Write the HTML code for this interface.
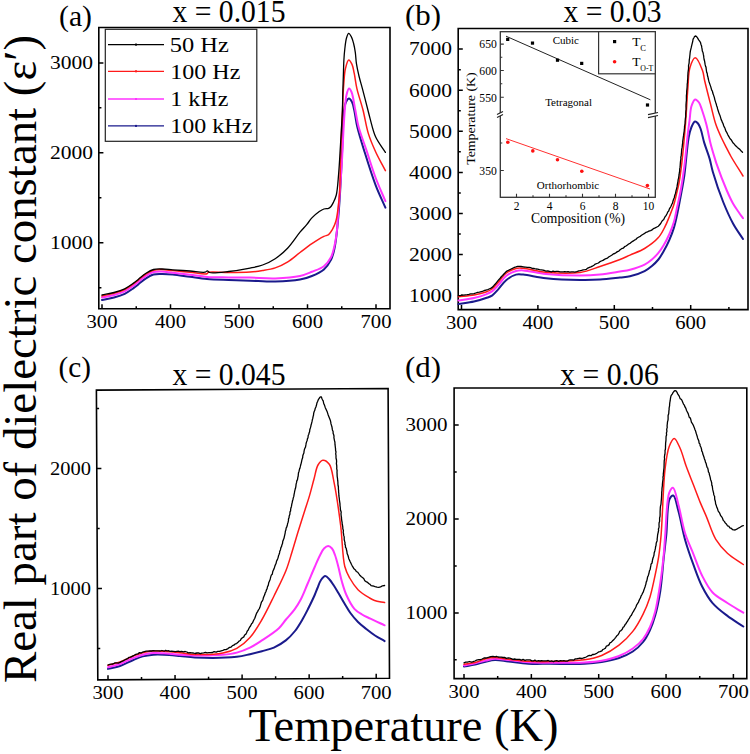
<!DOCTYPE html>
<html><head><meta charset="utf-8"><style>
html,body{margin:0;padding:0;background:#fff;}
svg{display:block;}
text{font-family:"Liberation Serif", serif;fill:#000;}
</style></head><body>
<svg width="750" height="754" viewBox="0 0 750 754">
<rect width="750" height="754" fill="#fff"/>
<path d="M98.8,27.5 L390,27.5 L390,308.8 L98.8,308.8 Z" fill="none" stroke="#000" stroke-width="1.6" stroke-linejoin="miter"/>
<path d="M102.00,308.80v-4.6 M170.50,308.80v-4.6 M239.00,308.80v-4.6 M307.50,308.80v-4.6 M376.00,308.80v-4.6 M136.25,308.80v-2.6 M204.75,308.80v-2.6 M273.25,308.80v-2.6 M341.75,308.80v-2.6 M98.80,242.70h4.6 M98.80,152.80h4.6 M98.80,62.90h4.6 M98.80,287.65h2.6 M98.80,197.75h2.6 M98.80,107.85h2.6" stroke="#000" stroke-width="1.5" fill="none"/>
<text x="102.0" y="328" font-size="19" text-anchor="middle" textLength="31" lengthAdjust="spacingAndGlyphs">300</text>
<text x="170.5" y="328" font-size="19" text-anchor="middle" textLength="31" lengthAdjust="spacingAndGlyphs">400</text>
<text x="239.0" y="328" font-size="19" text-anchor="middle" textLength="31" lengthAdjust="spacingAndGlyphs">500</text>
<text x="307.5" y="328" font-size="19" text-anchor="middle" textLength="31" lengthAdjust="spacingAndGlyphs">600</text>
<text x="376.0" y="328" font-size="19" text-anchor="middle" textLength="31" lengthAdjust="spacingAndGlyphs">700</text>
<text x="93" y="249.0" font-size="19" text-anchor="end" textLength="43" lengthAdjust="spacingAndGlyphs">1000</text>
<text x="93" y="159.1" font-size="19" text-anchor="end" textLength="43" lengthAdjust="spacingAndGlyphs">2000</text>
<text x="93" y="69.2" font-size="19" text-anchor="end" textLength="43" lengthAdjust="spacingAndGlyphs">3000</text>
<path d="M102.00,300.00 C106.00,299.17 110.15,298.56 114.00,297.50 C117.70,296.48 121.42,295.38 124.70,293.80 C127.79,292.31 130.74,290.15 133.20,288.40 C135.22,286.97 136.58,285.72 138.50,284.20 C140.78,282.40 143.42,279.95 146.00,278.30 C148.43,276.75 150.84,275.22 153.50,274.50 C156.17,273.78 159.00,274.02 162.00,274.00 C165.36,273.98 168.72,274.14 172.70,274.50 C177.79,274.96 184.26,276.05 190.00,276.80 C195.69,277.55 200.98,278.47 207.00,279.00 C213.78,279.59 221.50,279.72 228.70,280.00 C235.83,280.28 242.60,280.45 250.00,280.70 C258.05,280.98 266.84,281.79 275.20,281.60 C283.51,281.41 293.29,280.87 300.00,279.60 C304.74,278.70 308.01,277.64 311.90,276.00 C315.98,274.28 320.65,272.22 323.90,269.40 C326.92,266.77 329.22,263.42 331.00,259.90 C332.82,256.28 333.64,252.31 334.60,247.90 C335.74,242.68 336.27,236.97 337.00,230.50 C337.91,222.39 338.65,213.81 339.40,203.00 C340.47,187.51 341.61,162.51 342.30,146.40 C342.82,134.41 342.45,123.17 343.40,115.00 C344.02,109.70 344.61,104.85 346.00,102.00 C346.82,100.32 348.00,98.50 349.00,98.50 C350.00,98.50 351.19,100.48 352.00,102.00 C353.08,104.04 353.48,106.84 354.20,110.00 C355.23,114.50 355.77,120.44 357.20,126.50 C358.99,134.12 361.79,142.96 364.60,152.00 C367.84,162.41 371.90,175.46 375.70,185.40 C378.86,193.66 382.17,200.27 385.40,207.70" stroke="#1a1a8c" stroke-width="2.0" fill="none" stroke-linejoin="round" stroke-linecap="round"/>
<path d="M102.00,297.50 C106.00,296.67 110.15,296.06 114.00,295.00 C117.70,293.98 121.42,292.88 124.70,291.30 C127.79,289.81 130.74,287.65 133.20,285.90 C135.22,284.47 136.58,283.22 138.50,281.70 C140.78,279.90 143.42,277.45 146.00,275.80 C148.43,274.25 150.84,272.72 153.50,272.00 C156.17,271.28 159.01,271.41 162.00,271.50 C165.37,271.60 168.71,272.33 172.70,272.80 C177.78,273.40 184.26,274.11 190.00,274.80 C195.69,275.48 200.98,276.46 207.00,276.90 C213.78,277.40 221.50,277.28 228.70,277.40 C235.83,277.52 242.60,277.45 250.00,277.60 C258.05,277.77 266.84,278.67 275.20,278.40 C283.51,278.13 293.31,277.48 300.00,276.00 C304.76,274.95 307.96,273.41 311.90,271.80 C315.93,270.15 320.65,268.76 323.90,266.20 C326.91,263.83 329.23,260.68 331.00,257.30 C332.86,253.75 333.63,249.59 334.60,245.30 C335.69,240.50 336.41,235.16 337.00,229.80 C337.63,224.08 337.77,217.58 338.20,212.00 C338.58,207.05 338.95,203.81 339.40,198.00 C340.14,188.43 341.29,171.92 342.00,160.00 C342.63,149.41 342.98,138.99 343.50,130.00 C343.92,122.66 344.25,116.18 344.80,110.00 C345.28,104.63 345.53,98.90 346.50,95.00 C347.15,92.37 348.04,88.73 349.00,88.60 C349.75,88.50 350.74,90.30 351.50,92.00 C353.09,95.54 354.11,104.13 355.30,110.00 C356.44,115.61 356.94,120.56 358.50,126.50 C360.40,133.72 363.66,141.90 366.40,150.10 C369.38,159.01 372.39,169.19 375.70,178.00 C378.76,186.15 382.17,193.47 385.40,201.20" stroke="#ff33ff" stroke-width="2.0" fill="none" stroke-linejoin="round" stroke-linecap="round"/>
<path d="M102.00,296.00 C106.00,295.07 110.14,294.31 114.00,293.20 C117.70,292.13 121.43,291.10 124.70,289.50 C127.80,287.99 130.74,285.77 133.20,284.00 C135.21,282.56 136.58,281.31 138.50,279.80 C140.78,278.02 143.42,275.63 146.00,274.00 C148.43,272.46 150.84,270.93 153.50,270.20 C156.17,269.46 159.01,269.57 162.00,269.60 C165.36,269.64 168.71,270.23 172.70,270.60 C177.78,271.07 184.26,271.68 190.00,272.20 C195.69,272.71 204.54,274.59 207.00,273.70 C207.84,273.40 207.54,272.65 208.40,272.30 C211.15,271.19 221.85,272.63 228.70,272.60 C235.71,272.57 243.84,272.54 250.00,272.10 C254.76,271.76 258.42,271.30 262.60,270.60 C266.82,269.90 271.08,269.31 275.20,267.90 C279.49,266.43 283.75,264.29 287.80,261.80 C292.04,259.20 295.95,255.56 300.00,252.50 C303.98,249.49 307.85,246.32 311.90,243.60 C315.83,240.96 320.77,237.93 323.90,236.40 C325.78,235.49 327.26,235.61 328.60,234.60 C330.07,233.49 331.10,231.69 332.20,229.80 C333.55,227.48 334.85,224.71 335.80,221.50 C337.00,217.44 337.57,212.05 338.20,207.20 C338.85,202.22 339.23,198.16 339.60,192.00 C340.17,182.50 340.23,167.14 340.60,155.70 C340.93,145.44 341.31,134.85 341.70,126.50 C341.99,120.22 342.40,115.01 342.60,110.00 C342.77,105.82 342.72,102.68 342.90,98.50 C343.12,93.49 343.45,87.19 343.90,82.00 C344.30,77.35 344.46,72.70 345.40,68.80 C346.19,65.52 347.41,60.19 348.70,60.00 C349.69,59.86 351.13,62.58 352.00,64.40 C353.12,66.74 353.49,69.84 354.20,73.20 C355.14,77.61 355.63,83.08 356.90,88.60 C358.41,95.18 361.13,102.68 363.00,110.00 C364.94,117.60 366.05,126.13 368.30,133.40 C370.36,140.04 372.89,145.87 375.70,152.00 C378.58,158.27 382.17,164.40 385.40,170.60" stroke="#ff1a1a" stroke-width="1.5" fill="none" stroke-linejoin="round" stroke-linecap="round"/>
<path d="M102.00,295.00 C106.00,294.17 110.15,293.56 114.00,292.50 C117.70,291.48 121.42,290.38 124.70,288.80 C127.79,287.31 130.74,285.15 133.20,283.40 C135.22,281.97 136.58,280.72 138.50,279.20 C140.78,277.40 143.42,274.95 146.00,273.30 C148.43,271.75 150.84,270.22 153.50,269.50 C156.17,268.78 159.00,268.98 162.00,269.00 C165.36,269.03 168.71,269.51 172.70,269.80 C177.78,270.17 184.44,270.58 190.00,271.00 C195.18,271.39 202.24,272.86 205.00,272.20 C206.17,271.92 206.56,270.76 207.30,270.80 C208.06,270.84 208.30,272.12 209.50,272.50 C212.66,273.49 222.15,272.19 228.70,271.50 C235.63,270.77 243.85,269.35 250.00,268.10 C254.77,267.13 258.48,266.51 262.60,265.00 C266.89,263.42 271.15,261.37 275.20,258.70 C279.58,255.81 283.84,252.15 287.80,248.00 C292.15,243.44 296.48,236.47 300.00,232.20 C302.51,229.16 304.64,227.09 306.70,224.60 C308.58,222.33 309.90,220.01 311.90,217.90 C314.05,215.63 317.05,213.06 319.30,211.50 C320.95,210.36 322.31,209.51 323.90,209.00 C325.41,208.51 327.35,208.93 328.60,208.40 C329.60,207.98 330.27,207.34 331.00,206.50 C331.91,205.45 332.62,204.00 333.40,202.40 C334.41,200.33 335.52,198.15 336.30,195.00 C337.56,189.90 337.95,181.72 338.60,174.30 C339.35,165.70 339.81,156.32 340.40,146.40 C341.08,135.07 342.01,119.85 342.40,110.00 C342.66,103.27 342.63,99.03 342.80,93.00 C342.99,86.14 343.29,77.07 343.50,71.00 C343.65,66.70 343.68,63.66 343.90,60.00 C344.12,56.33 344.37,52.66 344.80,49.00 C345.23,45.33 345.63,40.83 346.50,38.00 C347.09,36.08 347.85,33.49 348.70,33.40 C349.50,33.32 350.64,35.47 351.40,36.90 C352.35,38.69 352.98,41.12 353.60,43.50 C354.31,46.20 354.85,49.19 355.30,52.30 C355.80,55.75 355.82,59.48 356.40,63.30 C357.04,67.52 358.08,72.21 359.10,76.50 C360.09,80.64 361.18,83.99 362.40,88.60 C364.02,94.72 366.48,104.46 367.90,110.00 C368.80,113.51 369.15,115.20 370.10,118.60 C371.50,123.61 373.08,131.39 375.70,137.10 C378.23,142.63 382.17,147.30 385.40,152.40" stroke="#000" stroke-width="1.3" fill="none" stroke-linejoin="round" stroke-linecap="round"/>
<rect x="105.3" y="29.3" width="151.5" height="112" fill="#fff" stroke="#222" stroke-width="1.2"/>
<path d="M108,44.6H164" stroke="#000" stroke-width="1.3"/>
<rect x="135" y="43.6" width="2" height="2" fill="#000"/>
<text x="169.8" y="51.9" font-size="22" textLength="59" lengthAdjust="spacingAndGlyphs">50 Hz</text>
<path d="M108,71.3H164" stroke="#ff1a1a" stroke-width="1.3"/>
<rect x="135" y="70.3" width="2" height="2" fill="#ff1a1a"/>
<text x="170.3" y="78.6" font-size="22" textLength="70" lengthAdjust="spacingAndGlyphs">100 Hz</text>
<path d="M108,99H164" stroke="#ff33ff" stroke-width="1.3"/>
<rect x="135" y="98.0" width="2" height="2" fill="#ff33ff"/>
<text x="170.3" y="106.3" font-size="22" textLength="58" lengthAdjust="spacingAndGlyphs">1 kHz</text>
<path d="M108,125.9H164" stroke="#1a1a8c" stroke-width="1.3"/>
<rect x="135" y="124.9" width="2" height="2" fill="#1a1a8c"/>
<text x="170.3" y="133.2" font-size="22" textLength="82" lengthAdjust="spacingAndGlyphs">100 kHz</text>
<text x="59" y="25.5" font-size="30" textLength="33" lengthAdjust="spacingAndGlyphs">(a)</text>
<text x="172.5" y="21.7" font-size="31" textLength="113" lengthAdjust="spacingAndGlyphs">x = 0.015</text>
<path d="M458.2,28.5 L748,28.5 L748,309.6 L458.2,309.6 Z" fill="none" stroke="#000" stroke-width="1.6" stroke-linejoin="miter"/>
<path d="M461.50,309.60v-4.6 M537.90,309.60v-4.6 M614.30,309.60v-4.6 M690.70,309.60v-4.6 M499.70,309.60v-2.6 M576.10,309.60v-2.6 M652.50,309.60v-2.6 M728.90,309.60v-2.6 M458.20,295.70h4.6 M458.20,254.60h4.6 M458.20,213.50h4.6 M458.20,172.40h4.6 M458.20,131.30h4.6 M458.20,90.20h4.6 M458.20,49.10h4.6 M458.20,275.15h2.6 M458.20,234.05h2.6 M458.20,192.95h2.6 M458.20,151.85h2.6 M458.20,110.75h2.6 M458.20,69.65h2.6" stroke="#000" stroke-width="1.5" fill="none"/>
<text x="461.5" y="329" font-size="19" text-anchor="middle" textLength="31" lengthAdjust="spacingAndGlyphs">300</text>
<text x="537.9" y="329" font-size="19" text-anchor="middle" textLength="31" lengthAdjust="spacingAndGlyphs">400</text>
<text x="614.3" y="329" font-size="19" text-anchor="middle" textLength="31" lengthAdjust="spacingAndGlyphs">500</text>
<text x="690.7" y="329" font-size="19" text-anchor="middle" textLength="31" lengthAdjust="spacingAndGlyphs">600</text>
<text x="452" y="302.0" font-size="19" text-anchor="end" textLength="43" lengthAdjust="spacingAndGlyphs">1000</text>
<text x="452" y="260.9" font-size="19" text-anchor="end" textLength="43" lengthAdjust="spacingAndGlyphs">2000</text>
<text x="452" y="219.8" font-size="19" text-anchor="end" textLength="43" lengthAdjust="spacingAndGlyphs">3000</text>
<text x="452" y="178.7" font-size="19" text-anchor="end" textLength="43" lengthAdjust="spacingAndGlyphs">4000</text>
<text x="452" y="137.6" font-size="19" text-anchor="end" textLength="43" lengthAdjust="spacingAndGlyphs">5000</text>
<text x="452" y="96.5" font-size="19" text-anchor="end" textLength="43" lengthAdjust="spacingAndGlyphs">6000</text>
<text x="452" y="55.4" font-size="19" text-anchor="end" textLength="43" lengthAdjust="spacingAndGlyphs">7000</text>
<path d="M458.40,304.00 C463.60,303.20 469.18,302.69 474.00,301.60 C478.30,300.63 482.71,299.15 486.00,298.00 C488.36,297.17 490.12,296.84 492.00,295.60 C494.16,294.18 495.87,291.87 498.00,289.60 C500.61,286.81 503.27,282.55 506.40,280.00 C509.31,277.63 512.93,275.40 516.00,274.60 C518.48,273.95 520.14,274.36 523.20,274.60 C528.68,275.03 537.62,277.32 546.00,278.20 C556.18,279.27 570.16,279.84 580.00,280.00 C587.54,280.12 593.34,280.02 600.00,279.60 C606.68,279.18 614.48,278.12 620.00,277.50 C623.91,277.06 626.40,277.15 630.00,276.30 C634.46,275.25 640.68,273.12 644.60,271.10 C647.57,269.57 649.62,267.91 651.90,266.00 C654.22,264.05 656.48,261.89 658.40,259.50 C660.35,257.07 661.81,254.47 663.50,251.50 C665.48,248.01 667.67,243.75 669.40,239.80 C671.09,235.94 672.58,232.03 673.80,228.10 C675.00,224.26 675.70,220.99 676.70,216.50 C678.07,210.36 679.69,201.70 681.00,194.60 C682.24,187.89 683.31,182.62 684.40,175.00 C685.91,164.47 687.05,145.77 688.70,137.20 C689.57,132.68 690.26,129.80 691.50,127.00 C692.48,124.80 693.73,121.77 695.00,121.50 C695.94,121.30 697.15,122.53 698.00,123.50 C699.06,124.70 699.69,126.36 700.50,128.50 C701.80,131.96 702.76,137.78 704.20,142.60 C705.76,147.79 708.12,153.50 709.60,158.60 C710.92,163.16 711.27,166.47 712.80,171.70 C715.16,179.76 719.52,192.79 723.20,202.00 C726.40,210.01 729.72,217.48 733.30,224.00 C736.38,229.60 739.77,234.00 743.00,239.00" stroke="#1a1a8c" stroke-width="2.0" fill="none" stroke-linejoin="round" stroke-linecap="round"/>
<path d="M458.40,300.40 C463.60,299.60 469.18,299.09 474.00,298.00 C478.30,297.03 482.73,295.70 486.00,294.40 C488.39,293.45 490.10,292.77 492.00,291.40 C494.13,289.86 495.87,287.67 498.00,285.40 C500.61,282.61 503.24,278.24 506.40,275.80 C509.30,273.56 512.95,271.86 516.00,271.00 C518.50,270.30 520.14,270.29 523.20,270.40 C528.68,270.60 537.62,273.14 546.00,274.00 C556.18,275.04 570.16,275.61 580.00,275.60 C587.55,275.59 593.35,275.28 600.00,274.60 C606.68,273.92 614.48,272.42 620.00,271.50 C623.91,270.85 626.39,270.65 630.00,269.70 C634.45,268.53 640.68,266.61 644.60,264.60 C647.58,263.08 649.62,261.43 651.90,259.50 C654.23,257.54 656.45,255.24 658.40,252.90 C660.31,250.60 661.83,248.38 663.50,245.60 C665.52,242.24 667.67,237.92 669.40,234.00 C671.09,230.15 672.60,226.35 673.80,222.30 C675.05,218.10 675.65,214.06 676.70,209.20 C678.01,203.13 679.74,195.73 681.00,188.70 C682.32,181.34 683.35,174.24 684.40,166.00 C685.65,156.21 686.80,142.29 687.80,133.80 C688.46,128.24 688.99,124.62 689.60,120.00 C690.22,115.35 690.26,109.71 691.50,106.00 C692.41,103.29 693.78,99.67 695.20,99.40 C696.34,99.18 697.95,101.07 699.00,102.50 C700.35,104.34 700.97,107.06 702.00,110.00 C703.41,114.04 705.04,119.38 706.40,124.60 C707.94,130.51 709.09,137.75 710.60,143.70 C711.95,149.00 713.84,155.08 714.90,158.60 C715.48,160.54 715.57,160.99 716.30,163.10 C718.11,168.32 723.44,182.61 726.60,190.00 C728.88,195.32 730.80,199.58 733.00,203.50 C734.82,206.73 736.83,209.39 738.60,212.00 C740.14,214.27 741.53,216.20 743.00,218.30" stroke="#ff33ff" stroke-width="2.0" fill="none" stroke-linejoin="round" stroke-linecap="round"/>
<path d="M458.40,296.80 C463.60,296.20 469.17,295.88 474.00,295.00 C478.29,294.22 482.74,293.21 486.00,292.00 C488.40,291.11 490.12,290.41 492.00,289.00 C494.16,287.38 495.85,284.88 498.00,282.50 C500.58,279.65 503.24,275.39 506.40,273.00 C509.30,270.81 512.95,269.11 516.00,268.40 C518.50,267.81 520.14,268.06 523.20,268.30 C528.68,268.73 537.61,271.46 546.00,272.20 C556.17,273.09 570.25,273.78 580.00,272.40 C587.64,271.32 593.36,268.64 600.00,266.50 C606.69,264.34 614.51,261.66 620.00,259.50 C623.94,257.95 626.36,256.72 630.00,255.10 C634.41,253.13 639.97,251.32 644.60,248.50 C649.46,245.55 654.89,241.58 658.40,237.60 C661.39,234.22 663.13,230.34 665.00,226.70 C666.75,223.30 667.97,220.03 669.40,216.50 C670.91,212.75 672.60,208.66 673.80,204.80 C674.94,201.16 675.62,197.70 676.50,194.00 C677.42,190.11 678.39,186.47 679.20,182.00 C680.21,176.43 680.94,170.54 681.80,163.10 C683.04,152.42 684.47,136.80 685.50,124.00 C686.49,111.68 687.04,97.99 687.90,87.70 C688.54,80.07 688.27,73.18 689.90,67.80 C691.12,63.76 693.26,57.83 695.20,57.80 C697.41,57.76 700.96,66.46 702.50,70.50 C703.76,73.79 703.60,76.11 704.50,80.00 C705.94,86.26 708.62,96.66 710.60,104.40 C712.41,111.46 713.91,118.70 715.90,124.60 C717.52,129.39 719.36,133.29 721.20,137.30 C722.91,141.02 724.79,144.56 726.50,147.90 C728.05,150.92 729.06,153.09 731.00,156.50 C733.97,161.73 739.00,169.50 743.00,176.00" stroke="#ff1a1a" stroke-width="1.5" fill="none" stroke-linejoin="round" stroke-linecap="round"/>
<path d="M458.4,295.6 L460.3,295.7 L461.8,294.8 L463.7,295.2 L465.4,294.8 L467.2,294.6 L468.9,294.3 L470.7,293.9 L472.5,293.9 L474.0,293.7 L475.8,293.0 L477.6,292.3 L479.4,292.1 L481.4,291.6 L483.0,291.2 L484.4,290.5 L485.9,290.1 L487.8,289.6 L489.1,289.0 L490.7,288.4 L492.1,287.4 L493.3,286.3 L494.6,284.7 L495.5,283.8 L496.8,282.2 L498.0,280.6 L499.2,279.3 L500.3,278.0 L501.5,276.5 L502.6,275.5 L503.9,274.0 L505.1,272.8 L506.4,271.4 L507.8,270.7 L509.4,269.8 L511.1,269.0 L512.9,268.2 L514.4,267.3 L516.0,266.9 L517.7,266.3 L519.5,266.4 L521.0,266.5 L523.3,266.8 L524.4,267.0 L525.7,267.1 L527.3,267.3 L529.1,267.3 L530.6,267.6 L532.3,268.5 L534.3,268.5 L536.0,269.0 L537.7,269.2 L539.6,269.6 L541.4,269.9 L543.0,270.2 L544.4,270.5 L545.9,271.2 L547.9,271.0 L549.5,271.3 L551.3,271.8 L553.0,271.2 L554.8,271.6 L556.4,271.3 L558.1,271.3 L560.1,271.8 L561.6,271.9 L563.2,271.9 L564.7,271.7 L566.4,271.9 L568.1,271.6 L569.7,272.1 L571.5,271.9 L573.2,271.8 L574.9,272.1 L576.7,271.6 L578.4,271.0 L579.9,270.7 L581.5,270.3 L583.2,269.8 L584.8,269.6 L586.4,269.3 L587.8,268.1 L589.4,267.4 L590.9,266.9 L592.3,266.2 L593.9,265.2 L595.3,264.1 L596.9,263.5 L598.4,263.0 L599.9,261.7 L601.4,261.0 L602.9,260.4 L604.5,259.4 L606.1,258.5 L607.5,258.1 L609.0,256.8 L610.4,256.0 L612.0,255.0 L613.3,253.9 L614.8,253.5 L616.3,252.4 L617.5,251.6 L618.8,251.1 L620.1,249.7 L621.6,248.7 L623.2,248.2 L624.6,246.7 L626.0,246.0 L627.4,245.0 L628.6,244.0 L630.1,243.3 L631.6,242.0 L633.0,241.1 L634.4,240.2 L635.8,239.5 L637.2,238.0 L638.9,237.0 L640.3,236.3 L641.5,235.3 L643.2,234.2 L644.6,233.4 L646.0,232.3 L647.5,231.9 L649.0,231.0 L650.6,230.6 L652.0,229.9 L653.5,228.6 L655.2,227.9 L656.9,227.0 L658.4,226.2 L659.4,225.0 L660.7,223.5 L661.5,222.0 L662.4,220.6 L663.6,219.7 L664.3,218.2 L665.2,216.5 L666.2,215.3 L667.0,213.7 L667.8,211.9 L668.7,211.0 L669.4,208.9 L670.2,207.7 L671.0,206.2 L671.7,204.5 L672.5,203.1 L673.0,201.0 L673.7,199.0 L674.3,197.7 L674.6,196.0 L675.0,194.8 L675.5,193.4 L675.8,191.8 L676.1,190.4 L676.6,188.6 L677.0,186.9 L677.3,184.8 L677.6,183.2 L677.9,181.8 L678.2,179.4 L678.6,178.1 L678.8,176.6 L679.1,174.7 L679.2,173.7 L679.5,172.2 L679.7,170.1 L679.7,169.0 L680.0,167.4 L680.2,165.4 L680.3,163.7 L680.4,162.3 L680.6,160.7 L680.9,158.9 L680.8,157.1 L681.2,155.8 L681.3,154.3 L681.5,152.5 L681.6,150.8 L681.7,149.3 L682.1,147.4 L682.3,145.8 L682.4,144.6 L682.7,142.9 L682.7,141.4 L683.0,139.3 L683.2,137.8 L683.5,135.9 L683.6,134.9 L683.9,132.9 L684.2,131.2 L684.3,129.5 L684.5,128.0 L684.5,126.7 L684.8,125.0 L685.1,123.3 L685.1,121.7 L685.2,120.2 L685.4,118.4 L685.7,116.7 L685.7,115.2 L685.7,113.3 L685.8,111.7 L686.0,109.9 L686.1,108.2 L686.0,106.8 L686.0,105.1 L686.1,103.6 L686.2,102.0 L686.4,100.7 L686.4,98.9 L686.4,97.6 L686.4,95.5 L686.6,94.1 L686.7,92.5 L686.7,91.0 L686.9,89.3 L687.1,87.3 L687.2,85.5 L687.2,84.2 L687.5,82.4 L687.5,80.8 L687.7,79.3 L687.8,77.6 L687.8,75.8 L687.9,74.5 L688.0,72.5 L688.2,71.2 L688.5,69.2 L688.6,67.4 L688.5,65.8 L688.8,64.3 L689.1,63.1 L689.2,61.4 L689.3,59.6 L689.6,58.1 L689.8,56.0 L690.0,54.2 L690.1,53.1 L690.4,50.9 L690.8,49.3 L691.2,47.7 L691.6,45.8 L692.1,43.9 L692.7,41.5 L693.1,39.2 L693.8,38.0 L694.4,36.7 L695.3,36.0 L696.4,36.3 L697.5,37.8 L698.7,39.8 L699.8,41.3 L700.5,42.5 L700.9,44.2 L701.5,45.7 L701.8,47.7 L702.1,49.1 L702.3,51.0 L703.0,52.5 L703.3,54.2 L703.7,56.2 L703.8,57.4 L704.1,59.5 L704.5,60.7 L704.8,62.4 L705.1,64.4 L705.6,66.3 L706.0,67.2 L706.2,68.9 L706.4,70.5 L706.7,72.3 L707.3,73.7 L707.5,75.7 L708.0,77.2 L708.2,78.5 L708.6,80.2 L709.0,81.7 L709.5,83.1 L710.1,84.9 L710.8,86.9 L711.2,88.4 L711.7,90.2 L712.4,91.2 L712.8,93.1 L713.3,94.4 L713.8,95.9 L714.4,97.6 L714.8,99.6 L715.2,100.9 L715.8,102.8 L716.3,104.2 L716.7,106.0 L717.2,107.1 L717.6,108.9 L718.2,110.8 L718.8,112.6 L719.4,114.3 L720.0,115.6 L720.7,117.9 L721.1,119.4 L721.7,120.6 L722.4,122.4 L723.1,123.7 L723.7,125.8 L724.2,126.9 L725.0,128.3 L725.5,130.1 L726.2,131.7 L726.9,132.7 L727.6,134.3 L728.3,135.7 L729.2,137.2 L730.1,138.8 L731.1,139.7 L732.0,141.1 L732.9,142.7 L734.1,143.9 L735.1,145.2 L736.2,146.2 L737.4,147.4 L738.7,148.4 L740.0,149.6 L741.2,151.0 L742.5,152.2" stroke="#000" stroke-width="1.3" fill="none" stroke-linejoin="round" stroke-linecap="round"/>
<text x="405" y="24.8" font-size="30" textLength="36" lengthAdjust="spacingAndGlyphs">(b)</text>
<text x="563.5" y="21.5" font-size="31" textLength="98" lengthAdjust="spacingAndGlyphs">x = 0.03</text>
<rect x="500.3" y="31.7" width="155" height="165.6" fill="#fff" stroke="#333" stroke-width="1.3"/>
<path d="M516.5,197.3v-3.5 M549.5,197.3v-3.5 M582.5,197.3v-3.5 M615.5,197.3v-3.5 M648.5,197.3v-3.5 M533.0,197.3v-2 M566.0,197.3v-2 M599.0,197.3v-2 M632.0,197.3v-2 M500.3,44.1h3.5 M500.3,70.5h3.5 M500.3,97.2h3.5 M500.3,170.5h3.5 M500.3,57.3h2 M500.3,83.7h2 M500.3,143h2" stroke="#333" stroke-width="1.1" fill="none"/>
<path d="M497.2,114.5 L502.9,111.4 L502.9,114.6 L497.2,117.7 Z" fill="#fff"/>
<path d="M497,114.6 L503,111.4 M497,117.6 L503,114.4" stroke="#222" stroke-width="1.1" fill="none"/>
<path d="M648.2,114.5 L658,112.4 L658,115.6 L648.2,117.6 Z" fill="#fff"/>
<path d="M648,114.6 L658,112.5 M648,117.6 L658,115.5" stroke="#222" stroke-width="1.1" fill="none"/>
<text x="516.5" y="210" font-size="11.5" text-anchor="middle">2</text>
<text x="549.5" y="210" font-size="11.5" text-anchor="middle">4</text>
<text x="582.5" y="210" font-size="11.5" text-anchor="middle">6</text>
<text x="615.5" y="210" font-size="11.5" text-anchor="middle">8</text>
<text x="648.5" y="210" font-size="11.5" text-anchor="middle">10</text>
<text x="496.8" y="48.4" font-size="11.5" text-anchor="end" textLength="17.5" lengthAdjust="spacingAndGlyphs">650</text>
<text x="496.8" y="74.8" font-size="11.5" text-anchor="end" textLength="17.5" lengthAdjust="spacingAndGlyphs">600</text>
<text x="496.8" y="101.5" font-size="11.5" text-anchor="end" textLength="17.5" lengthAdjust="spacingAndGlyphs">550</text>
<text x="496.8" y="174.8" font-size="11.5" text-anchor="end" textLength="17.5" lengthAdjust="spacingAndGlyphs">350</text>
<text x="531" y="223.4" font-size="14" textLength="94" lengthAdjust="spacingAndGlyphs">Composition (%)</text>
<text x="0" y="0" font-size="13.2" textLength="92.5" lengthAdjust="spacingAndGlyphs" transform="translate(474.6,164.8) rotate(-90)">Temperature (K)</text>
<text x="565.8" y="43.8" font-size="11" text-anchor="middle">Cubic</text>
<text x="568.6" y="106.3" font-size="11" text-anchor="middle">Tetragonal</text>
<text x="568" y="188.6" font-size="11" text-anchor="middle">Orthorhombic</text>
<path d="M506,36.2L650.4,99.8" stroke="#222" stroke-width="1" fill="none"/>
<path d="M506,138.6L650,189" stroke="#ff3030" stroke-width="1" fill="none"/>
<rect x="506.09999999999997" y="37.8" width="3.2" height="3.2" fill="#000"/>
<rect x="530.9" y="41.5" width="3.2" height="3.2" fill="#000"/>
<rect x="555.9" y="58.6" width="3.2" height="3.2" fill="#000"/>
<rect x="580.1" y="61.8" width="3.2" height="3.2" fill="#000"/>
<rect x="645.9" y="103.4" width="3.2" height="3.2" fill="#000"/>
<circle cx="507.8" cy="142.2" r="1.8" fill="#ff1010"/>
<circle cx="532.8" cy="150.9" r="1.8" fill="#ff1010"/>
<circle cx="557.5" cy="159.7" r="1.8" fill="#ff1010"/>
<circle cx="581.8" cy="171.2" r="1.8" fill="#ff1010"/>
<circle cx="647.4" cy="185.6" r="1.8" fill="#ff1010"/>
<rect x="598.6" y="31.7" width="56.7" height="42.1" fill="#fff" stroke="#333" stroke-width="1.2"/>
<rect x="613" y="40" width="3.2" height="3.2" fill="#000"/>
<circle cx="614.6" cy="61.7" r="1.8" fill="#ff1010"/>
<text x="632.3" y="46.3" font-size="13.5">T</text>
<text x="640.3" y="51.1" font-size="8.5">C</text>
<text x="632.3" y="66.1" font-size="13.5">T</text>
<text x="640.3" y="70.8" font-size="8.5" textLength="13" lengthAdjust="spacingAndGlyphs">O-T</text>
<path d="M96.4,390.1 L388.1,388.5 L389.5,678.3 L97.8,679.9 Z" fill="none" stroke="#000" stroke-width="1.6" stroke-linejoin="miter"/>
<path d="M108.00,679.84v-4.6 M175.05,679.48v-4.6 M242.10,679.11v-4.6 M309.15,678.74v-4.6 M376.20,678.37v-4.6 M141.53,679.66v-2.6 M208.57,679.29v-2.6 M275.62,678.92v-2.6 M342.67,678.56v-2.6 M97.36,588.50h4.6 M96.78,468.50h4.6 M97.65,648.50h2.6 M97.07,528.50h2.6 M96.49,408.50h2.6" stroke="#000" stroke-width="1.5" fill="none"/>
<text x="108.0" y="699" font-size="19" text-anchor="middle" textLength="31" lengthAdjust="spacingAndGlyphs">300</text>
<text x="175.1" y="699" font-size="19" text-anchor="middle" textLength="31" lengthAdjust="spacingAndGlyphs">400</text>
<text x="242.1" y="699" font-size="19" text-anchor="middle" textLength="31" lengthAdjust="spacingAndGlyphs">500</text>
<text x="309.1" y="699" font-size="19" text-anchor="middle" textLength="31" lengthAdjust="spacingAndGlyphs">600</text>
<text x="376.2" y="699" font-size="19" text-anchor="middle" textLength="31" lengthAdjust="spacingAndGlyphs">700</text>
<text x="91" y="594.5" font-size="19" text-anchor="end" textLength="41" lengthAdjust="spacingAndGlyphs">1000</text>
<text x="91" y="474.5" font-size="19" text-anchor="end" textLength="41" lengthAdjust="spacingAndGlyphs">2000</text>
<path d="M108.00,668.90 C112.00,667.93 115.96,667.38 120.00,666.00 C124.39,664.49 129.23,661.70 133.30,660.00 C136.68,658.59 139.42,657.28 142.70,656.40 C146.08,655.49 149.75,654.98 153.30,654.70 C156.85,654.42 160.08,654.54 164.00,654.70 C168.80,654.89 174.75,655.52 180.00,656.00 C185.08,656.46 188.74,657.24 195.00,657.50 C205.43,657.93 226.81,657.86 236.80,656.80 C242.47,656.20 245.73,655.16 250.00,654.20 C254.08,653.28 257.94,652.29 261.90,651.20 C265.90,650.10 270.01,649.32 273.90,647.60 C277.99,645.78 282.25,643.22 285.80,640.40 C289.26,637.66 292.23,634.48 295.00,631.00 C297.89,627.38 300.44,622.86 302.70,619.00 C304.71,615.56 306.17,612.63 308.00,609.00 C310.14,604.74 312.99,598.89 314.70,595.00 C315.89,592.29 316.49,590.40 317.50,588.00 C318.58,585.41 319.53,582.10 321.00,580.00 C322.20,578.29 323.77,576.06 325.20,576.00 C326.60,575.95 328.18,578.10 329.50,579.50 C330.97,581.05 332.14,582.97 333.50,585.00 C335.10,587.39 336.68,590.11 338.40,593.00 C340.41,596.36 342.71,600.53 344.80,604.00 C346.70,607.17 348.27,610.08 350.40,613.00 C352.64,616.08 355.29,619.29 358.00,622.00 C360.60,624.60 363.47,626.75 366.30,629.00 C369.13,631.25 371.97,633.49 375.00,635.50 C378.07,637.53 381.40,639.23 384.60,641.10" stroke="#1a1a8c" stroke-width="2.0" fill="none" stroke-linejoin="round" stroke-linecap="round"/>
<path d="M108.00,667.30 C112.00,666.20 115.95,665.46 120.00,664.00 C124.38,662.42 129.22,659.63 133.30,658.00 C136.67,656.65 139.43,655.53 142.70,654.70 C146.09,653.84 149.75,653.23 153.30,653.00 C156.85,652.77 160.08,653.07 164.00,653.30 C168.80,653.58 174.75,654.35 180.00,654.70 C185.08,655.04 189.23,655.34 195.00,655.40 C202.87,655.48 215.22,655.37 222.90,654.70 C228.35,654.22 232.29,653.78 236.80,652.60 C241.32,651.42 245.80,649.64 250.00,647.60 C254.17,645.57 257.64,643.21 261.90,640.40 C267.13,636.95 274.64,632.20 278.90,628.20 C282.02,625.27 283.49,622.52 286.00,619.50 C288.76,616.18 292.24,612.64 294.80,609.10 C297.19,605.80 299.04,602.78 301.00,599.00 C303.31,594.56 305.29,589.16 307.50,584.00 C309.85,578.52 312.47,572.10 314.70,567.00 C316.55,562.78 318.18,558.82 319.90,555.50 C321.28,552.84 322.39,550.12 324.00,548.50 C325.25,547.24 326.84,545.97 328.20,546.00 C329.51,546.03 330.94,547.27 332.00,548.50 C333.33,550.04 334.06,552.46 335.00,555.00 C336.24,558.35 337.29,562.77 338.40,567.00 C339.63,571.71 340.62,577.21 342.00,582.00 C343.30,586.52 344.45,590.70 346.40,595.00 C348.50,599.64 351.39,605.41 354.40,608.80 C356.73,611.42 359.32,612.85 362.00,614.50 C364.66,616.14 367.22,617.17 370.40,618.70 C374.50,620.68 379.87,623.10 384.60,625.30" stroke="#ff33ff" stroke-width="2.0" fill="none" stroke-linejoin="round" stroke-linecap="round"/>
<path d="M108.00,665.30 C112.00,664.20 115.95,663.46 120.00,662.00 C124.38,660.42 129.22,657.63 133.30,656.00 C136.67,654.65 139.43,653.53 142.70,652.70 C146.09,651.84 149.75,651.23 153.30,651.00 C156.85,650.77 160.08,651.07 164.00,651.30 C168.80,651.58 174.76,652.17 180.00,652.70 C185.08,653.21 189.22,654.22 195.00,654.40 C202.86,654.65 215.28,654.42 222.90,653.00 C228.42,651.97 232.44,650.81 236.80,648.40 C241.52,645.79 246.00,641.94 250.00,637.50 C254.50,632.51 258.18,626.02 262.00,619.50 C266.22,612.30 270.06,604.03 274.00,596.00 C278.07,587.71 282.87,578.41 286.00,570.50 C288.60,563.93 290.01,558.37 292.00,552.00 C294.11,545.23 296.23,537.72 298.30,531.00 C300.22,524.76 302.11,518.97 304.00,513.00 C305.87,507.10 307.91,501.18 309.60,495.40 C311.22,489.86 312.55,484.24 314.00,479.00 C315.35,474.14 316.07,468.29 318.00,465.00 C319.32,462.76 320.99,460.40 322.80,460.20 C324.73,459.98 327.59,461.96 329.30,464.30 C331.96,467.93 332.48,474.91 334.00,482.20 C336.32,493.36 338.79,510.82 340.60,525.00 C342.38,538.92 342.38,557.08 344.80,566.50 C346.13,571.66 347.61,574.26 349.70,578.00 C351.94,582.01 354.68,586.36 358.00,589.70 C361.31,593.03 366.47,596.12 369.60,598.00 C371.56,599.18 372.59,599.80 374.60,600.50 C377.31,601.45 381.27,601.90 384.60,602.60" stroke="#ff1a1a" stroke-width="1.5" fill="none" stroke-linejoin="round" stroke-linecap="round"/>
<path d="M108.0,665.0 L109.7,664.3 L111.5,664.1 L112.9,664.0 L115.0,662.9 L116.4,662.8 L118.3,663.1 L120.0,662.4 L121.3,661.6 L123.1,660.9 L124.6,660.0 L125.8,659.4 L127.6,658.7 L128.8,657.4 L130.5,657.2 L132.1,656.4 L133.5,655.7 L135.1,654.7 L136.7,654.1 L137.9,653.9 L139.4,652.6 L141.1,653.0 L142.6,652.1 L144.4,651.6 L146.2,651.1 L148.1,651.1 L149.9,651.0 L151.7,651.0 L153.2,650.7 L155.3,650.8 L156.8,650.9 L158.4,650.8 L160.3,651.0 L161.9,650.5 L164.2,651.2 L165.6,650.4 L166.9,650.8 L168.7,650.7 L170.0,651.4 L171.6,651.2 L173.4,651.4 L175.4,651.6 L177.0,651.3 L178.2,651.2 L179.8,651.6 L181.7,651.3 L183.2,651.9 L185.2,651.5 L186.9,652.0 L188.3,652.9 L190.1,652.6 L191.8,652.9 L193.4,653.0 L195.0,653.5 L196.9,653.0 L198.4,652.8 L200.3,653.6 L201.8,653.1 L203.7,652.9 L205.5,652.3 L207.0,652.9 L208.9,652.7 L210.6,652.6 L212.6,652.5 L214.1,651.6 L216.2,652.1 L217.8,651.4 L219.5,651.4 L221.2,650.8 L222.9,650.4 L224.5,649.7 L226.0,649.6 L228.0,648.6 L229.3,647.5 L230.9,647.2 L232.5,645.6 L233.8,645.2 L235.2,643.9 L236.6,643.5 L237.7,642.6 L239.2,641.0 L240.3,640.5 L241.3,638.6 L242.5,637.8 L243.8,636.9 L244.6,635.0 L245.7,634.4 L246.5,633.0 L247.3,630.9 L248.1,630.2 L249.0,628.3 L249.8,626.9 L250.5,626.0 L251.7,623.5 L252.5,623.0 L253.3,621.0 L253.8,620.0 L254.8,618.2 L255.4,616.5 L256.1,614.5 L256.8,612.8 L257.6,611.6 L258.2,610.4 L259.1,609.0 L259.8,607.6 L260.3,606.1 L261.0,603.6 L261.4,602.2 L262.2,601.2 L263.0,599.4 L263.3,598.1 L264.1,596.1 L264.7,594.8 L265.1,593.1 L265.9,591.7 L266.5,589.6 L267.1,588.8 L267.4,587.0 L268.3,585.1 L268.7,582.8 L269.3,581.4 L269.9,580.0 L270.3,578.7 L270.9,576.4 L271.4,574.9 L272.3,574.2 L272.7,571.8 L273.2,570.5 L273.9,569.1 L274.3,568.0 L274.9,566.1 L275.5,564.5 L276.0,563.6 L276.5,561.3 L277.2,559.9 L277.6,559.0 L278.1,557.6 L278.5,555.8 L279.1,554.3 L279.6,552.7 L279.8,551.2 L280.5,549.7 L280.9,547.6 L281.6,546.4 L281.8,545.3 L282.5,543.6 L282.8,541.2 L283.5,539.4 L284.0,538.3 L284.3,536.8 L284.7,535.1 L285.2,532.8 L285.4,531.0 L285.8,530.3 L286.2,527.9 L286.7,527.2 L287.4,524.7 L287.7,523.2 L288.1,522.2 L288.4,520.9 L288.5,519.1 L289.1,517.5 L289.2,515.9 L289.9,514.3 L290.0,511.9 L290.6,510.9 L290.7,508.9 L291.2,507.3 L291.5,506.2 L291.8,504.2 L292.2,502.5 L292.6,500.5 L292.9,500.0 L293.2,498.1 L293.8,496.4 L294.0,494.8 L294.4,492.9 L294.6,491.7 L295.2,489.1 L295.5,488.3 L295.9,486.1 L296.1,484.1 L296.6,482.4 L296.8,480.9 L297.5,479.6 L297.8,477.5 L298.2,476.0 L298.3,474.6 L298.5,472.7 L299.0,471.4 L299.4,469.6 L299.9,468.3 L300.3,466.7 L300.6,465.3 L301.1,463.6 L301.4,462.3 L301.8,460.4 L302.1,459.2 L302.7,457.5 L302.8,455.7 L303.4,454.0 L303.9,453.0 L304.0,451.7 L304.4,449.5 L305.0,448.0 L305.5,447.1 L305.9,444.9 L306.1,443.5 L306.4,442.4 L307.2,440.2 L307.4,438.9 L308.0,437.7 L308.2,435.5 L308.7,434.5 L309.2,432.6 L309.6,431.8 L309.8,429.8 L310.4,427.9 L310.9,426.1 L311.0,425.3 L311.5,423.6 L312.0,421.7 L312.4,419.5 L312.8,418.2 L313.2,416.1 L313.5,415.2 L313.7,413.1 L314.2,411.5 L314.8,410.3 L315.1,408.8 L315.9,407.0 L316.6,404.6 L316.9,403.1 L317.6,401.6 L318.5,399.3 L319.2,398.3 L319.8,397.5 L320.4,396.8 L321.3,396.8 L321.9,398.5 L322.5,399.8 L323.2,400.9 L323.7,403.5 L324.5,405.1 L325.2,407.4 L325.8,408.8 L326.6,410.6 L327.3,412.1 L327.7,413.4 L328.2,415.0 L329.1,417.3 L329.5,418.3 L330.3,420.2 L330.8,422.3 L331.0,423.9 L331.4,425.1 L331.9,426.7 L332.1,427.8 L332.4,429.9 L333.1,431.4 L333.1,433.2 L333.5,434.3 L334.0,436.0 L333.9,437.7 L334.3,439.6 L334.6,441.0 L334.9,442.1 L335.0,444.7 L335.2,445.9 L335.3,447.0 L335.5,448.3 L335.6,450.5 L336.0,452.0 L335.7,453.9 L336.0,455.4 L336.0,456.2 L336.0,458.0 L336.5,460.0 L336.6,461.5 L336.4,463.6 L336.7,465.4 L336.8,467.2 L336.7,468.7 L337.1,470.5 L337.0,472.3 L337.1,473.9 L337.1,474.9 L337.2,476.6 L337.5,478.4 L337.7,480.7 L337.9,482.1 L337.9,483.6 L338.1,485.7 L338.4,486.7 L338.4,489.0 L338.6,490.3 L338.6,492.2 L338.8,493.3 L338.9,495.9 L339.1,497.2 L339.3,498.7 L339.5,500.6 L339.7,501.9 L340.0,503.8 L340.0,505.4 L340.3,507.5 L340.4,509.5 L340.7,510.8 L341.2,512.1 L341.0,513.9 L341.2,515.8 L341.5,517.6 L341.5,518.6 L341.8,520.8 L342.1,522.4 L342.2,524.0 L342.4,524.7 L342.8,527.2 L342.8,528.5 L343.4,530.7 L343.2,532.4 L343.5,533.5 L343.7,535.4 L344.2,536.9 L344.2,539.5 L344.6,541.2 L345.0,542.6 L344.9,544.4 L345.4,545.2 L345.5,547.4 L346.2,548.2 L346.4,549.5 L346.9,551.5 L347.2,553.8 L347.9,555.3 L348.4,557.0 L348.8,558.7 L349.3,559.7 L350.1,561.6 L350.6,562.5 L351.5,564.5 L352.2,565.8 L353.0,567.1 L354.0,568.8 L355.4,569.9 L356.3,571.5 L357.8,572.3 L359.0,574.0 L360.1,575.6 L361.4,576.8 L362.4,577.5 L363.7,578.5 L364.8,580.8 L366.1,581.6 L367.6,582.3 L368.6,583.5 L370.1,584.4 L371.1,585.6 L373.4,586.0 L375.1,586.6 L377.0,587.1 L378.8,587.3 L380.6,586.9 L382.5,585.8 L384.6,585.5" stroke="#000" stroke-width="1.3" fill="none" stroke-linejoin="round" stroke-linecap="round"/>
<text x="58.5" y="377" font-size="30" textLength="32.5" lengthAdjust="spacingAndGlyphs">(c)</text>
<text x="172.5" y="384.9" font-size="31" textLength="113" lengthAdjust="spacingAndGlyphs">x = 0.045</text>
<path d="M454.1,388 L746.8,388 L746.8,678.6 L454.1,678.6 Z" fill="none" stroke="#000" stroke-width="1.6" stroke-linejoin="miter"/>
<path d="M464.00,678.60v-4.6 M531.35,678.60v-4.6 M598.70,678.60v-4.6 M666.05,678.60v-4.6 M733.40,678.60v-4.6 M497.68,678.60v-2.6 M565.02,678.60v-2.6 M632.38,678.60v-2.6 M699.73,678.60v-2.6 M454.10,612.90h4.6 M454.10,519.00h4.6 M454.10,425.10h4.6 M454.10,659.85h2.6 M454.10,565.95h2.6 M454.10,472.05h2.6" stroke="#000" stroke-width="1.5" fill="none"/>
<text x="464.0" y="697.5" font-size="19" text-anchor="middle" textLength="31" lengthAdjust="spacingAndGlyphs">300</text>
<text x="531.4" y="697.5" font-size="19" text-anchor="middle" textLength="31" lengthAdjust="spacingAndGlyphs">400</text>
<text x="598.7" y="697.5" font-size="19" text-anchor="middle" textLength="31" lengthAdjust="spacingAndGlyphs">500</text>
<text x="666.0" y="697.5" font-size="19" text-anchor="middle" textLength="31" lengthAdjust="spacingAndGlyphs">600</text>
<text x="733.4" y="697.5" font-size="19" text-anchor="middle" textLength="31" lengthAdjust="spacingAndGlyphs">700</text>
<text x="447.5" y="619.2" font-size="19" text-anchor="end" textLength="42" lengthAdjust="spacingAndGlyphs">1000</text>
<text x="447.5" y="525.3" font-size="19" text-anchor="end" textLength="42" lengthAdjust="spacingAndGlyphs">2000</text>
<text x="447.5" y="431.4" font-size="19" text-anchor="end" textLength="42" lengthAdjust="spacingAndGlyphs">3000</text>
<path d="M464.00,666.60 C467.67,665.93 471.38,665.42 475.00,664.60 C478.61,663.78 482.24,662.48 485.70,661.70 C488.89,660.98 491.61,660.13 495.00,660.00 C499.03,659.85 503.42,660.86 508.30,661.40 C514.29,662.06 521.49,663.29 528.30,663.70 C535.37,664.12 541.93,663.78 550.00,663.80 C560.17,663.82 574.99,664.30 584.50,663.80 C591.23,663.45 595.99,662.96 601.70,662.00 C607.49,661.03 613.65,659.85 619.00,658.00 C623.96,656.28 628.72,654.25 632.80,651.50 C636.71,648.87 640.23,645.60 643.10,642.00 C645.95,638.42 648.02,634.28 650.00,630.00 C652.09,625.48 653.64,621.03 655.20,615.50 C657.19,608.46 658.92,599.86 660.30,591.00 C661.90,580.68 662.71,567.28 663.80,557.20 C664.68,549.02 665.45,543.29 666.30,535.00 C667.38,524.45 666.91,504.53 669.60,499.00 C670.61,496.92 672.16,495.21 673.30,495.50 C675.39,496.03 676.88,505.61 678.60,511.80 C680.81,519.75 682.47,530.44 685.00,539.40 C687.46,548.13 690.54,556.82 693.50,564.90 C696.23,572.36 698.67,579.65 702.00,586.20 C705.10,592.31 708.34,598.13 712.60,603.10 C716.82,608.02 722.25,611.98 727.40,615.90 C732.49,619.77 738.00,622.97 743.30,626.50" stroke="#1a1a8c" stroke-width="2.0" fill="none" stroke-linejoin="round" stroke-linecap="round"/>
<path d="M464.00,665.40 C467.67,664.70 471.37,664.10 475.00,663.30 C478.60,662.50 482.25,661.39 485.70,660.60 C488.90,659.87 491.61,658.88 495.00,658.70 C499.02,658.49 503.42,659.48 508.30,660.00 C514.29,660.64 521.49,661.83 528.30,662.30 C535.37,662.79 541.93,662.75 550.00,662.80 C560.17,662.86 574.99,662.92 584.50,662.40 C591.23,662.03 596.00,661.75 601.70,660.70 C607.50,659.63 613.67,658.14 619.00,656.00 C623.99,654.00 628.70,651.44 632.80,648.50 C636.68,645.72 640.23,642.60 643.10,639.00 C645.95,635.42 648.04,631.36 650.00,627.00 C652.13,622.26 653.66,617.51 655.20,611.50 C657.24,603.52 658.87,592.66 660.30,583.10 C661.74,573.43 662.96,562.50 663.80,553.80 C664.47,546.85 664.56,542.51 665.20,535.00 C666.15,523.75 666.49,500.03 669.20,492.90 C670.26,490.12 671.80,487.50 673.00,487.70 C675.05,488.04 676.79,498.89 678.60,505.50 C680.82,513.64 682.34,524.51 685.00,533.00 C687.40,540.65 690.66,547.21 693.50,554.30 C696.33,561.38 698.68,568.96 702.00,575.50 C705.11,581.63 708.22,587.85 712.60,592.50 C716.77,596.92 722.32,599.65 727.40,603.00 C732.55,606.39 738.00,609.47 743.30,612.70" stroke="#ff33ff" stroke-width="2.0" fill="none" stroke-linejoin="round" stroke-linecap="round"/>
<path d="M464.00,664.20 C467.67,663.63 471.40,663.41 475.00,662.50 C478.64,661.58 482.21,659.53 485.70,658.70 C488.87,657.94 491.62,657.50 495.00,657.50 C499.04,657.50 503.41,658.63 508.30,659.20 C514.29,659.90 521.49,660.90 528.30,661.30 C535.38,661.72 541.93,661.75 550.00,661.60 C560.18,661.41 575.04,661.22 584.50,659.80 C591.28,658.79 596.12,657.80 601.70,655.50 C607.64,653.05 613.78,649.26 619.00,645.20 C624.13,641.21 628.81,636.53 632.80,631.40 C636.86,626.18 640.20,619.97 643.10,614.10 C645.89,608.46 648.24,602.38 650.00,596.90 C651.54,592.10 652.21,588.43 653.40,583.10 C655.02,575.83 657.30,565.53 658.60,557.20 C659.80,549.54 660.29,544.39 661.10,535.00 C662.50,518.81 663.13,484.86 665.10,468.70 C666.25,459.28 667.11,451.93 669.20,446.50 C670.56,442.97 672.47,438.39 674.20,438.40 C676.12,438.42 678.38,444.53 680.20,448.50 C682.52,453.56 684.11,460.58 686.30,466.60 C688.51,472.68 691.05,478.74 693.40,484.80 C695.75,490.84 698.12,497.37 700.40,502.90 C702.37,507.67 704.06,511.06 706.20,516.10 C709.03,522.76 711.86,532.89 715.80,539.40 C719.14,544.90 722.93,549.08 727.40,553.20 C732.05,557.49 738.00,560.73 743.30,564.50" stroke="#ff1a1a" stroke-width="1.5" fill="none" stroke-linejoin="round" stroke-linecap="round"/>
<path d="M464.0,662.8 L465.7,662.2 L467.5,662.1 L469.5,661.5 L471.5,662.2 L473.1,661.7 L474.9,661.0 L476.6,660.2 L478.8,659.6 L480.5,659.7 L482.1,659.0 L484.0,658.0 L485.9,658.0 L487.4,657.7 L489.5,657.0 L491.0,656.6 L492.9,656.3 L495.2,656.8 L496.4,656.4 L498.1,657.0 L499.8,657.2 L501.3,657.1 L503.0,657.5 L504.6,657.4 L506.3,658.4 L508.4,657.8 L509.8,658.2 L511.3,658.6 L512.9,659.4 L514.5,659.0 L516.2,659.4 L518.1,659.3 L519.8,659.4 L521.3,660.2 L523.1,659.4 L525.0,660.3 L526.5,659.9 L528.3,659.9 L530.1,659.9 L531.8,660.9 L533.5,660.8 L534.9,660.1 L536.8,661.2 L538.5,660.7 L540.1,661.0 L541.5,660.7 L543.2,660.9 L545.2,660.8 L546.4,660.8 L548.2,660.5 L550.0,661.3 L551.6,660.8 L553.5,661.6 L555.1,660.8 L556.8,660.6 L558.6,661.3 L560.4,660.6 L562.4,660.8 L563.8,660.6 L565.5,661.2 L567.2,661.2 L568.8,660.2 L570.4,659.8 L572.2,659.8 L573.6,660.2 L575.0,659.0 L576.6,658.9 L578.4,658.5 L579.6,658.1 L581.4,658.5 L582.9,658.2 L584.6,657.6 L586.2,657.0 L587.5,656.2 L589.4,655.4 L591.1,655.7 L592.5,654.5 L594.1,654.5 L595.6,653.9 L597.2,653.0 L598.9,651.8 L600.0,651.7 L601.9,650.8 L602.7,649.6 L604.0,649.0 L605.5,648.1 L606.4,646.0 L607.8,645.6 L609.2,644.6 L609.9,642.8 L611.1,642.4 L612.3,641.1 L613.7,639.8 L614.7,638.6 L615.7,637.3 L616.8,635.8 L618.1,634.8 L619.0,633.1 L619.8,631.3 L621.0,630.6 L622.1,629.6 L623.0,627.4 L624.0,626.8 L625.1,624.6 L625.7,624.1 L626.7,622.4 L627.6,621.2 L628.6,619.2 L629.3,618.6 L630.4,616.2 L631.2,615.6 L632.1,613.7 L632.6,612.7 L633.5,611.4 L634.6,609.3 L635.4,608.0 L636.2,606.2 L636.7,604.8 L637.5,603.7 L638.5,602.2 L638.9,600.9 L639.8,599.0 L640.6,597.7 L641.0,596.2 L642.0,594.5 L642.6,593.1 L643.2,592.2 L643.8,590.3 L644.5,588.4 L645.0,587.0 L645.5,585.2 L645.9,584.1 L646.2,582.1 L646.8,580.9 L647.2,579.1 L647.6,576.9 L648.1,576.0 L648.6,574.5 L649.1,572.6 L649.4,571.0 L650.2,569.2 L650.5,567.3 L650.8,565.9 L651.1,563.9 L651.9,563.3 L652.3,561.5 L652.5,560.0 L653.0,558.0 L653.6,556.4 L654.0,555.0 L654.2,552.8 L654.6,551.8 L655.0,550.2 L655.4,548.4 L655.6,546.7 L656.0,545.6 L656.2,543.3 L656.7,541.8 L657.1,540.9 L657.2,538.6 L657.4,537.3 L657.6,535.0 L658.1,532.7 L658.3,532.0 L658.6,530.3 L658.4,529.2 L659.0,527.2 L659.1,526.8 L659.0,524.9 L659.1,522.8 L659.6,521.4 L659.6,520.5 L659.6,518.0 L660.0,516.5 L660.1,514.7 L660.1,513.6 L660.1,512.1 L660.2,509.9 L660.3,507.7 L660.5,506.2 L661.0,504.1 L661.1,502.6 L661.2,501.3 L661.4,499.4 L661.5,497.9 L661.6,495.8 L661.7,494.2 L661.7,492.2 L661.9,490.9 L662.0,488.3 L662.1,487.6 L662.4,485.5 L662.4,484.4 L662.6,482.2 L662.9,480.2 L663.1,478.5 L662.9,477.0 L663.3,476.1 L663.3,473.7 L663.5,472.3 L663.7,470.3 L663.8,469.5 L664.0,467.7 L664.1,465.4 L664.1,464.2 L664.2,461.7 L664.2,460.9 L664.6,459.0 L664.4,457.2 L664.6,455.6 L664.9,454.2 L665.1,452.0 L665.0,450.7 L665.4,449.3 L665.5,447.8 L665.5,446.0 L665.6,444.4 L665.6,443.3 L665.9,440.8 L666.0,439.8 L666.0,438.5 L666.1,436.2 L666.6,434.9 L666.4,433.0 L666.9,431.4 L666.7,429.1 L667.2,427.6 L667.1,425.6 L667.3,424.0 L667.5,421.9 L668.0,420.1 L668.1,418.9 L668.1,416.7 L668.1,415.5 L668.7,413.7 L668.8,412.6 L668.9,410.7 L669.1,409.8 L669.1,408.1 L669.6,405.6 L669.6,404.6 L669.8,402.6 L670.2,400.7 L670.4,398.8 L670.7,397.2 L671.1,395.6 L672.2,394.1 L673.2,392.3 L674.3,391.0 L675.0,390.6 L676.4,391.2 L677.3,392.9 L678.0,394.4 L679.2,396.1 L680.1,398.6 L681.1,399.2 L682.0,400.4 L682.6,402.1 L683.5,404.1 L684.3,405.1 L685.0,406.9 L685.9,408.4 L686.4,410.2 L687.2,411.7 L688.2,413.6 L688.7,415.4 L689.3,417.4 L690.4,418.1 L691.0,420.4 L691.4,422.1 L692.4,423.6 L693.2,425.0 L693.6,426.1 L694.4,427.9 L695.0,429.8 L695.6,431.1 L696.2,433.2 L696.4,433.9 L697.0,435.7 L697.5,437.7 L698.1,439.4 L698.8,440.8 L699.1,443.1 L700.0,444.1 L700.1,445.7 L701.0,447.3 L701.6,449.5 L701.7,450.9 L702.5,452.3 L702.8,454.0 L703.4,455.6 L704.0,457.2 L704.3,458.5 L705.2,460.8 L705.4,462.0 L706.1,463.4 L706.6,465.6 L707.1,467.3 L707.7,468.0 L708.2,470.1 L708.4,471.8 L709.2,473.0 L709.3,474.3 L709.8,475.9 L710.3,477.9 L710.6,479.7 L711.2,481.1 L711.7,483.0 L711.8,485.1 L712.3,486.1 L712.5,488.0 L712.8,489.9 L713.1,491.1 L713.6,493.1 L713.8,494.7 L714.3,495.8 L714.6,496.4 L714.7,499.3 L715.3,501.2 L715.5,502.5 L715.6,503.8 L716.4,505.8 L716.8,507.3 L717.5,508.8 L718.2,511.1 L718.8,511.9 L719.7,513.2 L720.7,515.7 L721.4,516.4 L722.4,518.0 L723.3,520.4 L724.5,521.6 L725.2,522.9 L726.6,524.3 L727.4,525.8 L728.7,526.1 L729.9,527.8 L731.3,528.3 L732.6,529.7 L733.8,529.9 L735.1,530.0 L736.7,529.2 L738.6,528.0 L740.0,527.3 L741.7,526.2 L743.3,525.6" stroke="#000" stroke-width="1.3" fill="none" stroke-linejoin="round" stroke-linecap="round"/>
<text x="405" y="376.5" font-size="30" textLength="36" lengthAdjust="spacingAndGlyphs">(d)</text>
<text x="560.3" y="384.5" font-size="31" textLength="98.5" lengthAdjust="spacingAndGlyphs">x = 0.06</text>
<text x="0" y="0" font-size="47" textLength="648" lengthAdjust="spacingAndGlyphs" transform="translate(35.5,683) rotate(-90)">Real part of dielectric constant (ε′)</text>
<text x="248.5" y="741" font-size="47" textLength="310" lengthAdjust="spacingAndGlyphs">Temperature (K)</text>
</svg></body></html>
